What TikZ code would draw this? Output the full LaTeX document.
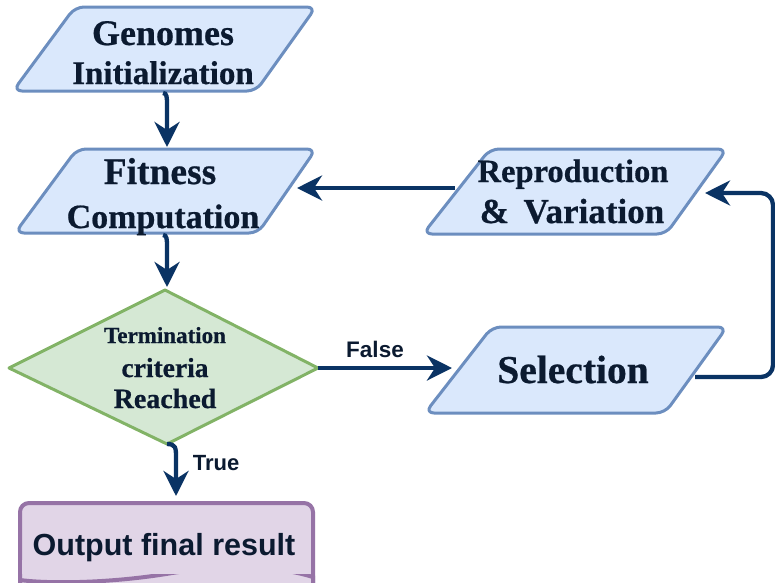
\documentclass[tikz,border=0pt]{standalone}
\usepackage{fontspec}
\setmainfont{Liberation Serif}[BoldFeatures={FakeBold=0.6}]
\newfontfamily\sansbold{Liberation Sans}
\usetikzlibrary{arrows.meta}
\definecolor{txt}{HTML}{0B1A30}
\definecolor{arr}{HTML}{0A3364}
\definecolor{bfill}{HTML}{DAE8FC}
\definecolor{bline}{HTML}{6C8EBF}
\definecolor{gfill}{HTML}{D5E8D4}
\definecolor{gline}{HTML}{82B366}
\definecolor{pfill}{HTML}{E1D5E7}
\definecolor{pline}{HTML}{9673A6}
\newcommand\fsz[1]{\fontsize{#1}{#1}\selectfont}
\begin{document}
\begin{tikzpicture}[x=1pt,y=-1pt,
  para/.style={draw=bline, fill=bfill, line width=3pt, rounded corners=9pt, line join=round},
  ser/.style={text=txt, font=\bfseries, anchor=base, inner sep=0pt},
  san/.style={text=txt, font=\sansbold\bfseries, anchor=base, inner sep=0pt},
  conn/.style={draw=arr, line width=4.3pt, -{Stealth[length=25pt,width=25pt,inset=8pt]}}]
\useasboundingbox (0,0) rectangle (775,582);
\clip (0,0) rectangle (775,582);

% shapes
\draw[para] (13,91) -- (75,7) -- (316,7) -- (256,91) -- cycle;
\draw[para] (15,233) -- (77,149) -- (316,149) -- (258,233) -- cycle;
\draw[para] (423,234) -- (490,149) -- (727,149) -- (666,234) -- cycle;
\draw[para] (425,413) -- (492,327) -- (727,327) -- (665,413) -- cycle;
\draw[draw=gline, fill=gfill, line width=3pt, line join=round] (165,290) -- (318,368) -- (167,444) -- (9,368) -- cycle;
\draw[draw=pline, fill=pfill, line width=4pt, rounded corners=9pt]
  (20,600) -- (20,503) -- (313,503) -- (313,600);
\draw[draw=pline, fill=pfill, line width=4pt]
  (313,577) .. controls (270,564) and (220,565) .. (166,574) .. controls (110,583) and (50,584) .. (20,580) -- (20,600) -- (313,600) -- cycle;
\fill[pfill] (22,560) rectangle (311,574);

% texts
\node[ser] (gen1) at (163,45) {\fsz{36}Genomes};
\node[ser] (gen2) at (163,84) {\fsz{33}Initialization};
\node[ser] (fit1) at (160,184) {\fsz{37.5}Fitness};
\node[ser] (fit2) at (163,228) {\fsz{34}Computation};
\node[ser] (rep1) at (573,182) {\fsz{32.5}Reproduction};
\node[ser] (rep2) at (572,223) {\fsz{35}\&~\,Variation};
\node[ser] (sel) at (573,383) {\fsz{39.5}Selection};
\node[ser] (ter1) at (165,343) {\fsz{23}Termination};
\node[ser] (ter2) at (165,377) {\fsz{27.5}criteria};
\node[ser] (ter3) at (165,408) {\fsz{28}Reached};
\node[san] (out) at (164,555) {\fsz{30.5}Output final result};
\node[san] (lfalse) at (375,357) {\fsz{22.5}False};
\node[san] (ltrue) at (216,470) {\fsz{22}True};

% connector end points
\coordinate (genOut) at (163,93);
\coordinate (fitIn) at (167,147);
\coordinate (fitOut) at (163,235);
\coordinate (decIn) at (167,287);
\coordinate (decR) at (318,368);
\coordinate (selIn) at (452,368);
\coordinate (decB) at (167,444);
\coordinate (outIn) at (176,496);
\coordinate (selOut) at (695,377);
\coordinate (repIn) at (705,193);
\coordinate (repOut) at (455,188);
\coordinate (fitR) at (297,188);

% connectors
\draw[conn] (genOut) .. controls (167,93) and (167,97) .. (167,106) -- (fitIn);
\draw[conn] (fitOut) .. controls (167,235) and (167,239) .. (167,248) -- (decIn);
\draw[conn] (decR) -- (selIn);
\draw[conn] (decB) .. controls (176,444) and (176,448) .. (176,458) -- (outIn);
\draw[conn, rounded corners=12pt] (selOut) -- (773,377) -- (773,193) -- (repIn);
\draw[conn] (repOut) -- (fitR);
\end{tikzpicture}
\end{document}
